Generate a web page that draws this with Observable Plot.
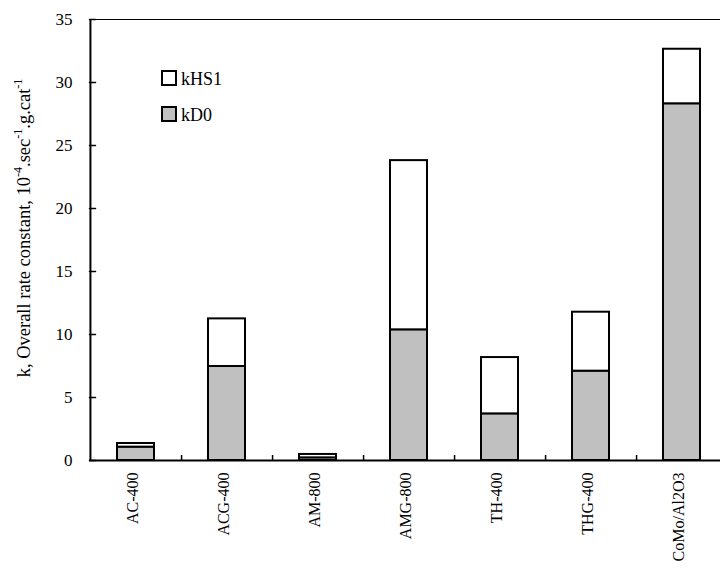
<!DOCTYPE html>
<html>
<head>
<meta charset="utf-8">
<script src="https://cdn.jsdelivr.net/npm/d3@7"></script>
<script src="https://cdn.jsdelivr.net/npm/@observablehq/plot@0.6"></script>
<style>
  html, body { margin: 0; padding: 0; background: #fff; }
  #chart svg { display: block; font-family: "Liberation Serif", "Times New Roman", serif; }
</style>
</head>
<body>
<div id="chart"></div>
<script>
const categories = ["AC-400", "ACG-400", "AM-800", "AMG-800", "TH-400", "THG-400", "CoMo/Al2O3"];
const kD0   = [1.06, 7.46, 0.21, 10.37, 3.70, 7.09, 28.31];
const kHS1  = [0.29, 3.78, 0.27, 13.43, 4.47, 4.68, 4.33];
const seriesNames = ["kD0", "kHS1"];
const seriesColors = ["#c0c0c0", "#ffffff"];
const yTicks = [0, 5, 10, 15, 20, 25, 30, 35];

const rows = [];
categories.forEach((c, i) => {
  rows.push({cat: c, series: "kD0", value: kD0[i]});
  rows.push({cat: c, series: "kHS1", value: kHS1[i]});
});

const W = 720, H = 568;
const mL = 89, mT = 19, mB = 108;
const xRange = [mL, 727];
const step = (xRange[1] - xRange[0]) / categories.length;

const chart = Plot.plot({
  width: W, height: H,
  marginLeft: mL, marginRight: 0, marginTop: mT, marginBottom: mB,
  style: {fontFamily: "'Liberation Serif', 'Times New Roman', serif", color: "#000", background: "#fff"},
  x: {domain: categories, range: xRange, paddingInner: 0.594, paddingOuter: 0.297, axis: null},
  y: {domain: [0, 35], axis: null},
  color: {domain: seriesNames, range: seriesColors},
  marks: [
    Plot.barY(rows, {x: "cat", y: "value", fill: "series", stroke: "#000", strokeWidth: 2, order: seriesNames}),
    Plot.ruleY([35], {stroke: "#000", strokeWidth: 1}),
    Plot.ruleY([0], {stroke: "#000", strokeWidth: 2}),
    Plot.ruleX([categories[0]], {x: d => d, y1: 0, y2: 35, dx: -step / 2, stroke: "#000", strokeWidth: 2}),
    Plot.vector(yTicks, {y: d => d, frameAnchor: "left", length: 6, rotate: 90, anchor: "start", stroke: "#000", strokeWidth: 1.5, shape: {draw(ctx, l) { ctx.moveTo(0, 0); ctx.lineTo(0, -l); }}}),
    Plot.axisY(yTicks, {tickSize: 0, tickPadding: 17, fontSize: 17, label: null, tickFormat: d => d}),
    Plot.ruleX(categories.slice(0, -1), {x: d => d, y1: 0, y2: 0, insetTop: -5, dx: step / 2, stroke: "#000", strokeWidth: 1.5}),
    Plot.axisX(categories, {tickSize: 0, tickRotate: -90, tickPadding: 12, fontSize: 16, dx: -3, label: null})
  ]
});

const svg = d3.select(chart);
// y-axis title with superscripts
const t = svg.append("text")
  .attr("transform", "translate(30,228) rotate(-90)")
  .attr("text-anchor", "middle")
  .attr("font-size", 18.5)
  .attr("fill", "#000");
t.append("tspan").text("k, Overall rate constant, 10");
t.append("tspan").attr("font-size", 12).attr("dy", -8).text("-4");
t.append("tspan").attr("dy", 8).text(".sec");
t.append("tspan").attr("font-size", 12).attr("dy", -8).text("-1");
t.append("tspan").attr("dy", 8).text(".g.cat");
t.append("tspan").attr("font-size", 12).attr("dy", -8).text("-1");

// legend (top series first)
const legend = [{name: "kHS1", y: 85}, {name: "kD0", y: 121}];
legend.forEach(l => {
  const color = seriesColors[seriesNames.indexOf(l.name)];
  svg.append("rect").attr("x", 162).attr("y", l.y - 14).attr("width", 14).attr("height", 14)
    .attr("fill", color).attr("stroke", "#000").attr("stroke-width", 2);
  svg.append("text").attr("x", 181).attr("y", l.y)
    .attr("text-anchor", "start")
    .attr("font-size", 18).attr("fill", "#000").text(l.name);
});

document.getElementById("chart").appendChild(chart);
</script>
</body>
</html>
